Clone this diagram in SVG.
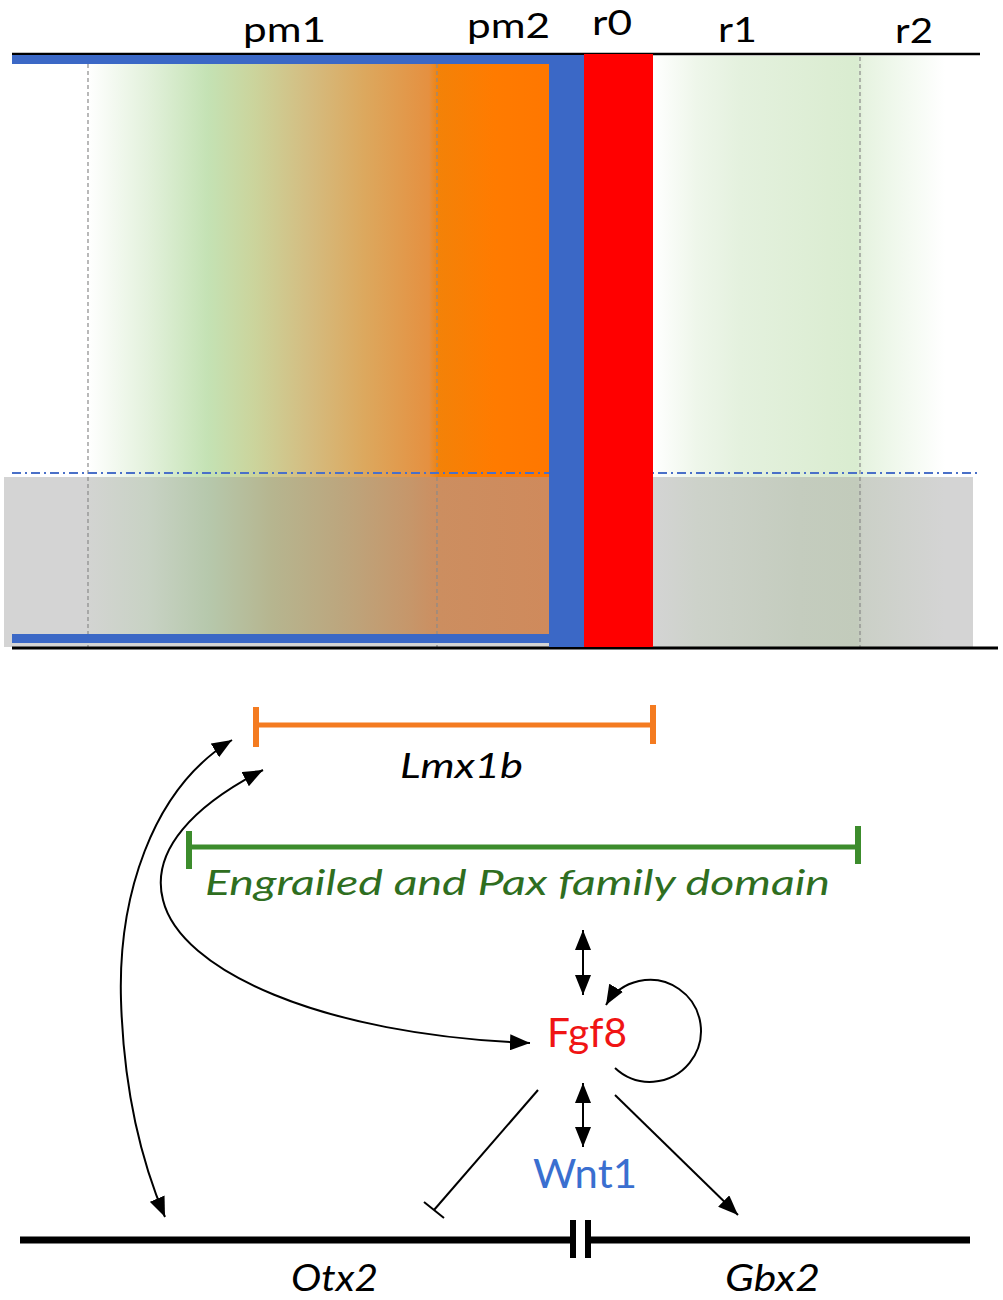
<svg xmlns="http://www.w3.org/2000/svg" width="1003" height="1300" viewBox="0 0 1003 1300">
<style>
.lbl{font-family:Lato,"Open Sans","Liberation Sans",sans-serif;fill:#000}
.it{font-style:italic}
.conn{fill:none;stroke:#000;stroke-width:2}
.vdash{stroke:#8a8a8a;stroke-width:1.2;stroke-dasharray:4 3;fill:none}
</style>
<defs>
<linearGradient id="gUL" x1="88" y1="0" x2="549" y2="0" gradientUnits="userSpaceOnUse">
<stop offset="0" stop-color="#ffffff"/>
<stop offset="0.13" stop-color="#e3f1dc"/>
<stop offset="0.26" stop-color="#c4e2b4"/>
<stop offset="0.36" stop-color="#cbd49c"/>
<stop offset="0.48" stop-color="#d4bc80"/>
<stop offset="0.6" stop-color="#dca85e"/>
<stop offset="0.74" stop-color="#e59040"/>
<stop offset="0.76" stop-color="#f38208"/>
<stop offset="0.88" stop-color="#ff7b00"/>
<stop offset="1" stop-color="#ff7700"/>
</linearGradient>
<linearGradient id="gLL" x1="88" y1="0" x2="549" y2="0" gradientUnits="userSpaceOnUse">
<stop offset="0" stop-color="#d3d4d2"/>
<stop offset="0.13" stop-color="#c8d2c4"/>
<stop offset="0.26" stop-color="#b6c8ac"/>
<stop offset="0.4" stop-color="#b6b58f"/>
<stop offset="0.55" stop-color="#bca67e"/>
<stop offset="0.7" stop-color="#c6966a"/>
<stop offset="0.76" stop-color="#cc8e60"/>
<stop offset="1" stop-color="#cf8a5c"/>
</linearGradient>
<linearGradient id="gUR" x1="653" y1="0" x2="945" y2="0" gradientUnits="userSpaceOnUse">
<stop offset="0" stop-color="#ffffff"/>
<stop offset="0.15" stop-color="#eef6ea"/>
<stop offset="0.3" stop-color="#e4f1de"/>
<stop offset="0.6" stop-color="#dcedd3"/>
<stop offset="0.7" stop-color="#d9ecd0"/>
<stop offset="0.72" stop-color="#e6f3e0"/>
<stop offset="0.9" stop-color="#f6fbf4"/>
<stop offset="1" stop-color="#ffffff"/>
</linearGradient>
<linearGradient id="gLR" x1="653" y1="0" x2="945" y2="0" gradientUnits="userSpaceOnUse">
<stop offset="0" stop-color="#d4d4d4"/>
<stop offset="0.15" stop-color="#cdd2ca"/>
<stop offset="0.5" stop-color="#c4ccbe"/>
<stop offset="0.7" stop-color="#c2cbbb"/>
<stop offset="0.72" stop-color="#cbd0c7"/>
<stop offset="1" stop-color="#d4d4d4"/>
</linearGradient>
<marker id="ah" viewBox="0 0 20 16" refX="20" refY="8" markerWidth="20" markerHeight="16" markerUnits="userSpaceOnUse" orient="auto-start-reverse">
<path d="M0,0 L20,8 L0,16 Z" fill="#000"/>
</marker>
</defs>
<rect width="1003" height="1300" fill="#ffffff"/>

<g id="section-map">
<rect x="88" y="64" width="461" height="413" fill="url(#gUL)"/>
<rect x="653" y="56" width="292" height="421" fill="url(#gUR)"/>
<rect x="4" y="477" width="969" height="170" fill="#d4d4d4"/>
<rect x="88" y="477" width="461" height="157" fill="url(#gLL)"/>
<rect x="653" y="477" width="292" height="170" fill="url(#gLR)"/>
<line class="vdash" x1="88" y1="57" x2="88" y2="648"/>
<line class="vdash" x1="437" y1="57" x2="437" y2="648"/>
<line class="vdash" x1="860" y1="57" x2="860" y2="648"/>
<line x1="12" y1="473" x2="978" y2="473" stroke="#4a70c8" stroke-width="2.2" stroke-dasharray="9 4 2 4"/>
<line x1="12" y1="54" x2="980" y2="54" stroke="#000" stroke-width="2.5"/>
<line x1="12" y1="648" x2="998" y2="648" stroke="#000" stroke-width="3"/>
<rect x="12" y="55" width="540" height="9" fill="#3b68c6"/>
<rect x="12" y="634" width="540" height="9" fill="#3b68c6"/>
<rect x="549" y="55" width="35" height="592" fill="#3b68c6"/>
<rect x="584" y="54" width="69" height="593" fill="#ff0000"/>
</g>

<g id="segment-labels">
<text id="lbl-pm1" class="lbl" x="243" y="42" font-size="35" textLength="83" lengthAdjust="spacingAndGlyphs">pm1</text>
<text id="lbl-pm2" class="lbl" x="467" y="38" font-size="35" textLength="83" lengthAdjust="spacingAndGlyphs">pm2</text>
<text id="lbl-r0" class="lbl" x="592" y="35" font-size="35" textLength="40" lengthAdjust="spacingAndGlyphs">r0</text>
<text id="lbl-r1" class="lbl" x="718" y="42" font-size="35" textLength="39" lengthAdjust="spacingAndGlyphs">r1</text>
<text id="lbl-r2" class="lbl" x="895" y="43" font-size="35" textLength="38" lengthAdjust="spacingAndGlyphs">r2</text>
</g>

<g id="node-lmx1b">
<line x1="256" y1="725" x2="653" y2="725" stroke="#f47b20" stroke-width="5"/>
<line x1="256" y1="707" x2="256" y2="747" stroke="#f47b20" stroke-width="6"/>
<line x1="653" y1="705" x2="653" y2="744" stroke="#f47b20" stroke-width="6"/>
<text class="lbl it" x="400" y="778" font-size="35" textLength="123" lengthAdjust="spacingAndGlyphs">Lmx1b</text>
</g>

<g id="node-engrailed-pax">
<line x1="189" y1="847" x2="858" y2="847" stroke="#3c8c2c" stroke-width="5"/>
<line x1="189" y1="831" x2="189" y2="869" stroke="#3c8c2c" stroke-width="6"/>
<line x1="858" y1="826" x2="858" y2="864" stroke="#3c8c2c" stroke-width="6"/>
<text class="lbl it" x="205" y="895" font-size="35" style="fill:#2f6e1f" textLength="625" lengthAdjust="spacingAndGlyphs">Engrailed and Pax family domain</text>
</g>

<g id="node-fgf8">
<text class="lbl" x="547" y="1047" font-size="41" style="fill:#f01414" textLength="80" lengthAdjust="spacingAndGlyphs">Fgf8</text>
</g>

<g id="node-wnt1">
<text class="lbl" x="533" y="1188" font-size="41" style="fill:#3a6fd0" textLength="104" lengthAdjust="spacingAndGlyphs">Wnt1</text>
</g>

<g id="node-axis">
<line x1="20" y1="1240" x2="573" y2="1240" stroke="#000" stroke-width="7"/>
<line x1="588" y1="1240" x2="970" y2="1240" stroke="#000" stroke-width="7"/>
<rect x="570" y="1220" width="6" height="38" fill="#000"/>
<rect x="585" y="1220" width="6" height="38" fill="#000"/>
</g>

<g id="node-otx2">
<text class="lbl it" x="291" y="1291" font-size="36" textLength="87" lengthAdjust="spacingAndGlyphs">Otx2</text>
</g>

<g id="node-gbx2">
<text class="lbl it" x="725" y="1291" font-size="36" textLength="95" lengthAdjust="spacingAndGlyphs">Gbx2</text>
</g>

<g id="connectors">
<path class="conn" d="M232,740 C150,790 118,900 121,1000 C124,1100 145,1170 165,1217" marker-start="url(#ah)" marker-end="url(#ah)"/>
<path class="conn" d="M263,770 C195,805 150,850 163,900 C180,970 320,1035 530,1043" marker-start="url(#ah)" marker-end="url(#ah)"/>
<line class="conn" x1="583" y1="930" x2="583" y2="995" marker-start="url(#ah)" marker-end="url(#ah)"/>
<path class="conn" d="M615,1068 A51,51 0 1 0 606,1005" marker-end="url(#ah)"/>
<line class="conn" x1="583" y1="1083" x2="583" y2="1147" marker-start="url(#ah)" marker-end="url(#ah)"/>
<line class="conn" x1="615" y1="1095" x2="738" y2="1215" marker-end="url(#ah)"/>
<line class="conn" x1="538" y1="1090" x2="434" y2="1210" stroke-width="1.6"/>
<line class="conn" x1="424" y1="1202" x2="444" y2="1218" stroke-width="1.6"/>
</g>
</svg>
